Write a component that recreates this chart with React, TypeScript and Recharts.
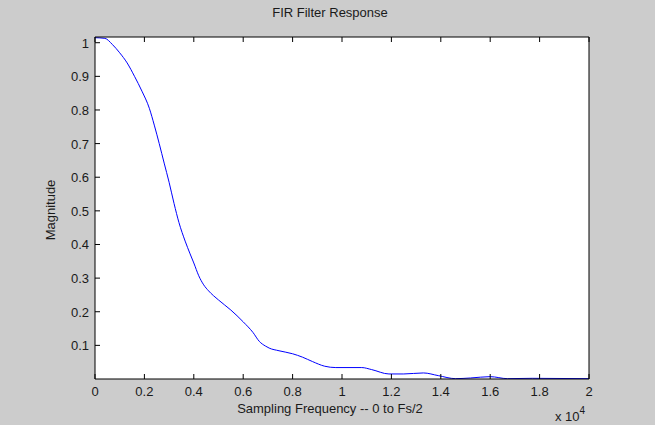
import React from 'react';
import { LineChart, Line, XAxis, YAxis } from 'recharts';

// frequency in Hz (0 .. Fs/2)
const freqs = [
    0, 400, 700, 1000, 1300, 1600, 1900, 2200, 2400, 2600, 2800, 3000, 3200, 3400, 3650, 3850,
    4000, 4200, 4400, 4600, 5000, 5500, 6000, 6400, 6650, 6900, 7050, 7450, 8000, 8400, 8800,
    9300, 9750, 10800, 11200, 11900, 12500, 13300, 13900, 14600, 15200, 16000, 16700, 17700, 20000,
];
const magnitude = [
    1.015, 1.013, 0.995, 0.97, 0.94, 0.9, 0.856, 0.805, 0.755, 0.7, 0.642, 0.585, 0.522, 0.465, 0.41, 0.372,
    0.345, 0.307, 0.28, 0.262, 0.235, 0.205, 0.17, 0.138, 0.112, 0.098, 0.092, 0.084, 0.075, 0.065, 0.052,
    0.038, 0.034, 0.034, 0.028, 0.015, 0.015, 0.018, 0.01, 0.001, 0.003, 0.007, 0.001, 0.002, 0.001,
];
const xTicks = [0, 2000, 4000, 6000, 8000, 10000, 12000, 14000, 16000, 18000, 20000];
const yTicks = [0.1, 0.2, 0.3, 0.4, 0.5, 0.6, 0.7, 0.8, 0.9, 1];

const FONT = '"Liberation Sans", Arial, sans-serif';
const TXT = '#1a1a1a';
const TICK = 5;

const data = freqs.map((f, i) => ({ f, mag: magnitude[i] }));

const fmtX = (v: number) => String(+(v / 10000).toFixed(1));

const BottomTick = (p: any) => (
    <g>
        <line x1={p.x} x2={p.x} y1={p.y} y2={p.y - TICK} stroke="#000" />
        <text x={p.x} y={p.y + 17} textAnchor="middle" fontSize={13} fontFamily={FONT} fill={TXT}>
            {fmtX(p.payload.value)}
        </text>
    </g>
);
const TopTick = (p: any) => <line x1={p.x} x2={p.x} y1={p.y} y2={p.y + TICK} stroke="#000" />;
const LeftTick = (p: any) => (
    <g>
        <line x1={p.x} x2={p.x + TICK} y1={p.y} y2={p.y} stroke="#000" />
        <text x={p.x - 6} y={p.y + 5} textAnchor="end" fontSize={13} fontFamily={FONT} fill={TXT}>
            {p.payload.value}
        </text>
    </g>
);
const RightTick = (p: any) => <line x1={p.x} x2={p.x - TICK} y1={p.y} y2={p.y} stroke="#000" />;

export default function App() {
    return (
        <div style={{ position: 'absolute', left: 0, top: 0, width: 655, height: 425, background: '#cccccc' }}>
            {/* white plot background, behind the svg */}
            <div style={{ position: 'absolute', left: 95, top: 37, width: 494, height: 342, background: '#ffffff' }} />
            <div style={{ position: 'absolute', left: 0, top: 0 }}>
                <LineChart width={655} height={425} data={data} margin={{ top: 36, right: 65, left: 0, bottom: 0 }}>
                    <XAxis dataKey="f" type="number" domain={[0, 20000]} ticks={xTicks} height={46}
                        axisLine={{ stroke: '#000' }} tickLine={false} tickSize={0} tickMargin={0}
                        tick={(p: any) => <BottomTick {...p} />} />
                    <XAxis xAxisId="top" orientation="top" dataKey="f" type="number" domain={[0, 20000]} ticks={xTicks}
                        height={1} axisLine={{ stroke: '#000' }} tickLine={false} tickSize={0} tickMargin={0}
                        tick={(p: any) => <TopTick {...p} />} />
                    <YAxis type="number" domain={[0, 1.017]} ticks={yTicks} width={95} allowDataOverflow
                        axisLine={{ stroke: '#000' }} tickLine={false} tickSize={0} tickMargin={0}
                        tick={(p: any) => <LeftTick {...p} />} />
                    <YAxis yAxisId="r" orientation="right" type="number" domain={[0, 1.017]} ticks={yTicks} width={1}
                        axisLine={{ stroke: '#000' }} tickLine={false} tickSize={0} tickMargin={0}
                        tick={(p: any) => <RightTick {...p} />} />
                    <Line type="monotone" dataKey="mag" stroke="#0000ff" strokeWidth={1} dot={false} isAnimationActive={false} />
                </LineChart>
            </div>
            <div style={{ position: 'absolute', left: 83, width: 494, top: 5, textAlign: 'center', fontFamily: FONT, fontSize: 13, color: TXT }}>
                FIR Filter Response
            </div>
            <div style={{ position: 'absolute', left: 83, width: 494, top: 401, textAlign: 'center', fontFamily: FONT, fontSize: 13, color: TXT }}>
                Sampling Frequency -- 0 to Fs/2
            </div>
            <div style={{ position: 'absolute', left: 50, top: 210, transform: 'translate(-50%, -50%) rotate(-90deg)', fontFamily: FONT, fontSize: 13, color: TXT, whiteSpace: 'nowrap' }}>
                Magnitude
            </div>
            <div style={{ position: 'absolute', left: 555, top: 409, fontFamily: FONT, fontSize: 13, color: TXT, whiteSpace: 'nowrap' }}>
                x 10<span style={{ position: 'relative', top: -7, fontSize: 10 }}>4</span>
            </div>
        </div>
    );
}
